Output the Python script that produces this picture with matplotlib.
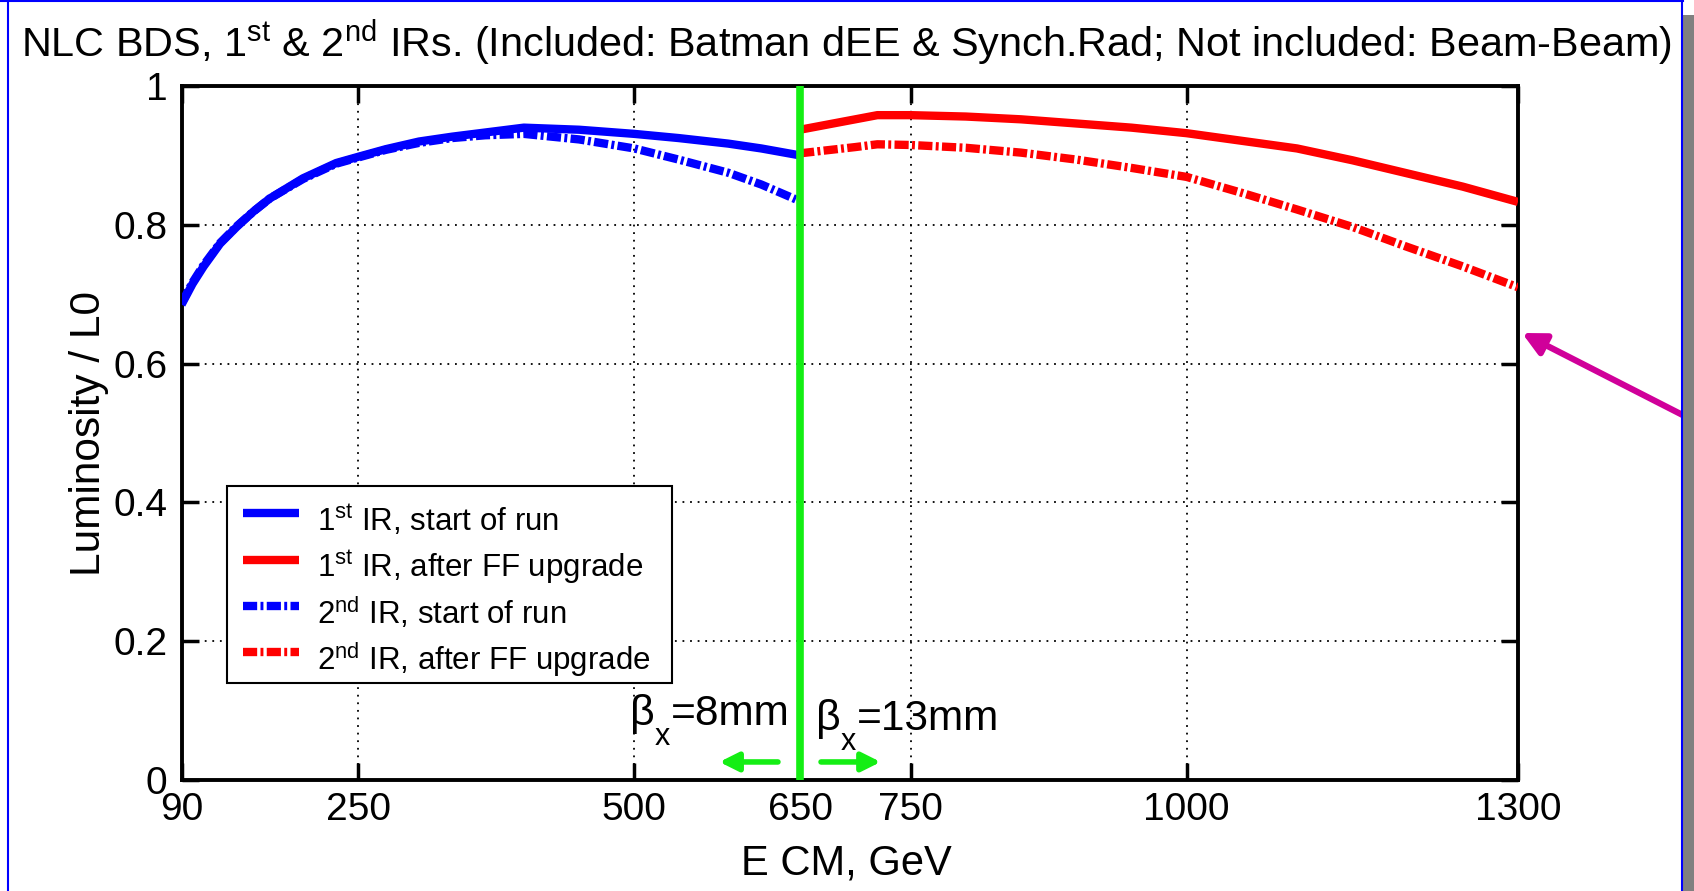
import matplotlib
matplotlib.use('Agg')
import matplotlib.pyplot as plt
from matplotlib.patches import Rectangle
from matplotlib.lines import Line2D

plt.rcParams['font.family'] = ['Liberation Sans', 'DejaVu Sans']
plt.rcParams['mathtext.fontset'] = 'custom'
plt.rcParams['mathtext.rm'] = 'Liberation Sans'
plt.rcParams['mathtext.it'] = 'Liberation Sans'
plt.rcParams['mathtext.bf'] = 'Liberation Sans:bold'

# ---------------- data ----------------
E_start = [90, 100, 110, 125, 140, 155, 170, 200, 230, 250, 275, 305, 335, 365, 400,
           450, 500, 540, 585, 615, 650]
L_ir1_start = [0.685, 0.715, 0.740, 0.773, 0.797, 0.819, 0.838, 0.867, 0.889, 0.898, 0.909,
               0.920, 0.927, 0.933, 0.940, 0.937, 0.931, 0.925, 0.917, 0.910, 0.900]
L_ir2_start = [0.687, 0.717, 0.742, 0.774, 0.798, 0.819, 0.838, 0.866, 0.888, 0.897, 0.908,
               0.918, 0.925, 0.929, 0.931, 0.923, 0.910, 0.894, 0.875, 0.858, 0.834]

E_upg = [650, 700, 720, 750, 800, 850, 900, 950, 1000, 1050, 1100, 1150, 1200, 1250, 1300]
L_ir1_upg = [0.937, 0.952, 0.958, 0.958, 0.956, 0.952, 0.946, 0.940, 0.932, 0.921, 0.910,
             0.893, 0.874, 0.855, 0.833]
L_ir2_upg = [0.903, 0.912, 0.916, 0.915, 0.911, 0.904, 0.894, 0.882, 0.869, 0.846, 0.822,
             0.797, 0.768, 0.740, 0.710]

x_ticks = [90, 250, 500, 650, 750, 1000, 1300]
x_ticklabels = ['90', '250', '500', '650', '750', '1000', '1300']
y_ticks = [0, 0.2, 0.4, 0.6, 0.8, 1.0]
y_ticklabels = ['0', '0.2', '0.4', '0.6', '0.8', '1']

legend_labels = [r'1$^{\rm st}$ IR, start of run', r'1$^{\rm st}$ IR, after FF upgrade',
                 r'2$^{\rm nd}$ IR, start of run', r'2$^{\rm nd}$ IR, after FF upgrade']
E_switch = 650

title = (r'NLC BDS, 1$^{\rm st}$ & 2$^{\rm nd}$ IRs. (Included: Batman dEE & Synch.Rad; '
         r'Not included: Beam-Beam)')

# ---------------- figure ----------------
W, H = 1694, 891
AX_L, AX_R, AX_T, AX_B = 181.5, 1518, 86, 780
fig = plt.figure(figsize=(W / 100, H / 100), dpi=100)
fig.patch.set_facecolor('white')
ax = fig.add_axes([AX_L / W, (H - AX_B) / H, (AX_R - AX_L) / W, (AX_B - AX_T) / H])


def axf(px, py):
    """pixel (from top-left) -> axes fraction"""
    return (px - AX_L) / (AX_R - AX_L), (AX_B - py) / (AX_B - AX_T)


LW = 6
dd = (1.7, 0.4, 0.35, 0.4)
blue = '#0000FF'
red = '#FF0000'
green = '#14EE14'
styles = [dict(color=blue), dict(color=red),
          dict(color=blue, dashes=dd), dict(color=red, dashes=dd)]

ax.plot(E_start, L_ir1_start, lw=LW, solid_capstyle='butt', zorder=3, **styles[0])
ax.plot(E_upg, L_ir1_upg, lw=LW, solid_capstyle='butt', zorder=3, **styles[1])
ax.plot(E_start, L_ir2_start, lw=LW, dash_capstyle='butt', zorder=4, **styles[2])
ax.plot(E_upg, L_ir2_upg, lw=LW, dash_capstyle='butt', zorder=4, **styles[3])

ax.axvline(E_switch, color=green, lw=5.5, zorder=5)

ax.set_xlim(90, 1300)
ax.set_ylim(0, 1)
ax.set_xticks(x_ticks)
ax.set_xticklabels(x_ticklabels)
ax.set_yticks(y_ticks)
ax.set_yticklabels(y_ticklabels)
ax.tick_params(direction='in', length=12, width=2.5, top=True, right=True,
               labelsize=28, pad=9)
ax.tick_params(axis='y', pad=10)
for s in ax.spines.values():
    s.set_linewidth(2.8)
ax.grid(True, color='k', lw=1.3, ls=(0, (1, 3.2)))
ax.set_axisbelow(True)

# legend (drawn as a boxed key)
x0, y0 = axf(227, 683)
x1, y1 = axf(672, 486)
ax.add_patch(Rectangle((x0, y0), x1 - x0, y1 - y0, transform=ax.transAxes,
                       facecolor='white', edgecolor='black', lw=1.5, zorder=6))
row_base = [531, 577.5, 624, 670]
for lab, st, yb in zip(legend_labels, styles, row_base):
    hx0, hy = axf(243, yb - 18)
    hx1, _ = axf(299, yb - 18)
    ax.add_line(Line2D([hx0, hx1], [hy, hy], transform=ax.transAxes, lw=LW,
                       solid_capstyle='butt', dash_capstyle='butt', zorder=7, **st))
    tx, ty = axf(317, yb)
    ax.text(tx, ty, lab, transform=ax.transAxes, fontsize=22.5, ha='left', va='baseline',
            zorder=7)

# beta annotations
def beta_label(px_beta, px_sub, px_rest, py_base, py_sub, rest):
    bx, by = axf(px_beta, py_base)
    sx, sy = axf(px_sub, py_sub)
    rx, ry = axf(px_rest, py_base)
    ax.text(bx, by, '\u03b2', transform=ax.transAxes, fontsize=31, ha='left',
            va='baseline', zorder=6)
    ax.text(sx, sy, 'x', transform=ax.transAxes, fontsize=22, ha='left',
            va='baseline', zorder=6)
    ax.text(rx, ry, rest, transform=ax.transAxes, fontsize=30.5, ha='left',
            va='baseline', zorder=6)


beta_label(630, 655, 671, 725, 745, '=8mm')
beta_label(816, 841, 857, 730, 750, '=13mm')

# green arrows
ax.annotate('', xy=(577, 0.026), xytext=(630, 0.026),
            arrowprops=dict(arrowstyle='-|>', color=green, lw=4, mutation_scale=28,
                            shrinkA=0, shrinkB=0), zorder=6)
ax.annotate('', xy=(723, 0.026), xytext=(669, 0.026),
            arrowprops=dict(arrowstyle='-|>', color=green, lw=4, mutation_scale=28,
                            shrinkA=0, shrinkB=0), zorder=6)

# labels
fig.text(846 / W, 1 - 57 / H, title, fontsize=29.8, ha='center', va='baseline')
fig.text(846 / W, 1 - 864 / H, 'E CM, GeV', fontsize=30, ha='center', va='center')
fig.text(88.6 / W, 1 - 433 / H, 'Luminosity / L0', fontsize=30.5, ha='center', va='center',
         rotation=90)

# magenta pointer arrow
ax.annotate('', xy=(1522, H - 333), xycoords='figure pixels',
            xytext=(1712, H - 430), textcoords='figure pixels',
            arrowprops=dict(arrowstyle='-|>', color='#D0009A', lw=4.5, mutation_scale=34,
                            shrinkA=0, shrinkB=0), annotation_clip=False)

# slide frame
fig.add_artist(Line2D([8 / W, 8 / W], [0, 1], transform=fig.transFigure, color='#0000FF', lw=1.5))
fig.add_artist(Line2D([0, 1683 / W], [1 - 1 / H, 1 - 1 / H], transform=fig.transFigure,
                      color='#0000FF', lw=1.5))
fig.add_artist(Line2D([1682 / W, 1682 / W], [0, 1], transform=fig.transFigure,
                      color='#0000FF', lw=1.5))
fig.add_artist(Rectangle((1683 / W, 0), 11 / W, (H - 15) / H, transform=fig.transFigure,
                         color='#808080', lw=0))

fig.savefig('out.png', dpi=100)
